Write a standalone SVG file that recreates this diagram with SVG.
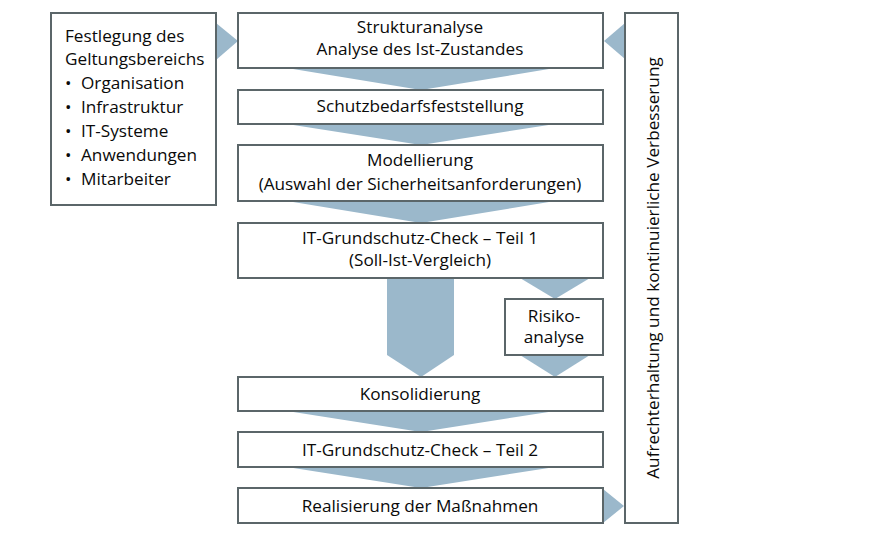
<svg xmlns="http://www.w3.org/2000/svg" width="888" height="536" viewBox="0 0 888 536">
<style>
.box{fill:#fff;stroke:#5b6669;stroke-width:2}
.arr{fill:#9bb8cb;stroke:none}
text{font-family:"Open Sans","Noto Sans","Liberation Sans",sans-serif;font-size:17.2px;fill:#0a0a0a}
.c{text-anchor:middle}
</style>
<rect width="888" height="536" fill="#fff"/>
<g id="connectors">
<polygon class="arr" points="216,23 238,41 216,60"/>
<polygon class="arr" points="625,23 604,41 625,59"/>
<polygon class="arr" points="287,68 555,68 421,90"/>
<polygon class="arr" points="287,124 555,124 421,145"/>
<polygon class="arr" points="287,201 555,201 421,223"/>
<polygon class="arr" points="387,278 454,278 454,355 421,377 387,355"/>
<polygon class="arr" points="520,278 590,278 555,299"/>
<polygon class="arr" points="520,355 590,355 555,377"/>
<polygon class="arr" points="287,411 555,411 421,432"/>
<polygon class="arr" points="287,467 555,467 421,488"/>
<polygon class="arr" points="603,489 624,506 603,523"/>
</g>
<g id="scope">
<rect class="box" x="51" y="13" width="165" height="192"/>
<text x="65" y="42">Festlegung des</text>
<text x="65" y="65">Geltungsbereichs</text>
<text x="65" y="89">•</text><text x="81" y="89">Organisation</text>
<text x="65" y="113">•</text><text x="81" y="113">Infrastruktur</text>
<text x="65" y="137">•</text><text x="81" y="137">IT-Systeme</text>
<text x="65" y="161">•</text><text x="81" y="161">Anwendungen</text>
<text x="65" y="185">•</text><text x="81" y="185">Mitarbeiter</text>
</g>
<g id="strukturanalyse">
<rect class="box" x="238" y="13" width="365" height="55"/>
<text class="c" x="420" y="33">Strukturanalyse</text>
<text class="c" x="420" y="55">Analyse des Ist-Zustandes</text>
</g>
<g id="schutzbedarf">
<rect class="box" x="238" y="90" width="365" height="34"/>
<text class="c" x="420" y="112">Schutzbedarfsfeststellung</text>
</g>
<g id="modellierung">
<rect class="box" x="238" y="145" width="365" height="56"/>
<text class="c" x="420" y="166">Modellierung</text>
<text class="c" x="420" y="190">(Auswahl der Sicherheitsanforderungen)</text>
</g>
<g id="check1">
<rect class="box" x="238" y="223" width="365" height="55"/>
<text class="c" x="420" y="244">IT-Grundschutz-Check – Teil 1</text>
<text class="c" x="420" y="266">(Soll-Ist-Vergleich)</text>
</g>
<g id="risiko">
<rect class="box" x="505" y="299" width="98" height="56"/>
<text class="c" x="554" y="322">Risiko-</text>
<text class="c" x="554" y="343">analyse</text>
</g>
<g id="konsolidierung">
<rect class="box" x="238" y="377" width="365" height="34"/>
<text class="c" x="420" y="400">Konsolidierung</text>
</g>
<g id="check2">
<rect class="box" x="238" y="432" width="365" height="35"/>
<text class="c" x="420" y="456">IT-Grundschutz-Check – Teil 2</text>
</g>
<g id="realisierung">
<rect class="box" x="238" y="488" width="365" height="35"/>
<text class="c" x="420" y="512">Realisierung der Maßnahmen</text>
</g>
<g id="verbesserung">
<rect class="box" x="625" y="13" width="53" height="510"/>
<text class="c" transform="translate(659,268) rotate(-90)">Aufrechterhaltung und kontinuierliche Verbesserung</text>
</g>
</svg>
